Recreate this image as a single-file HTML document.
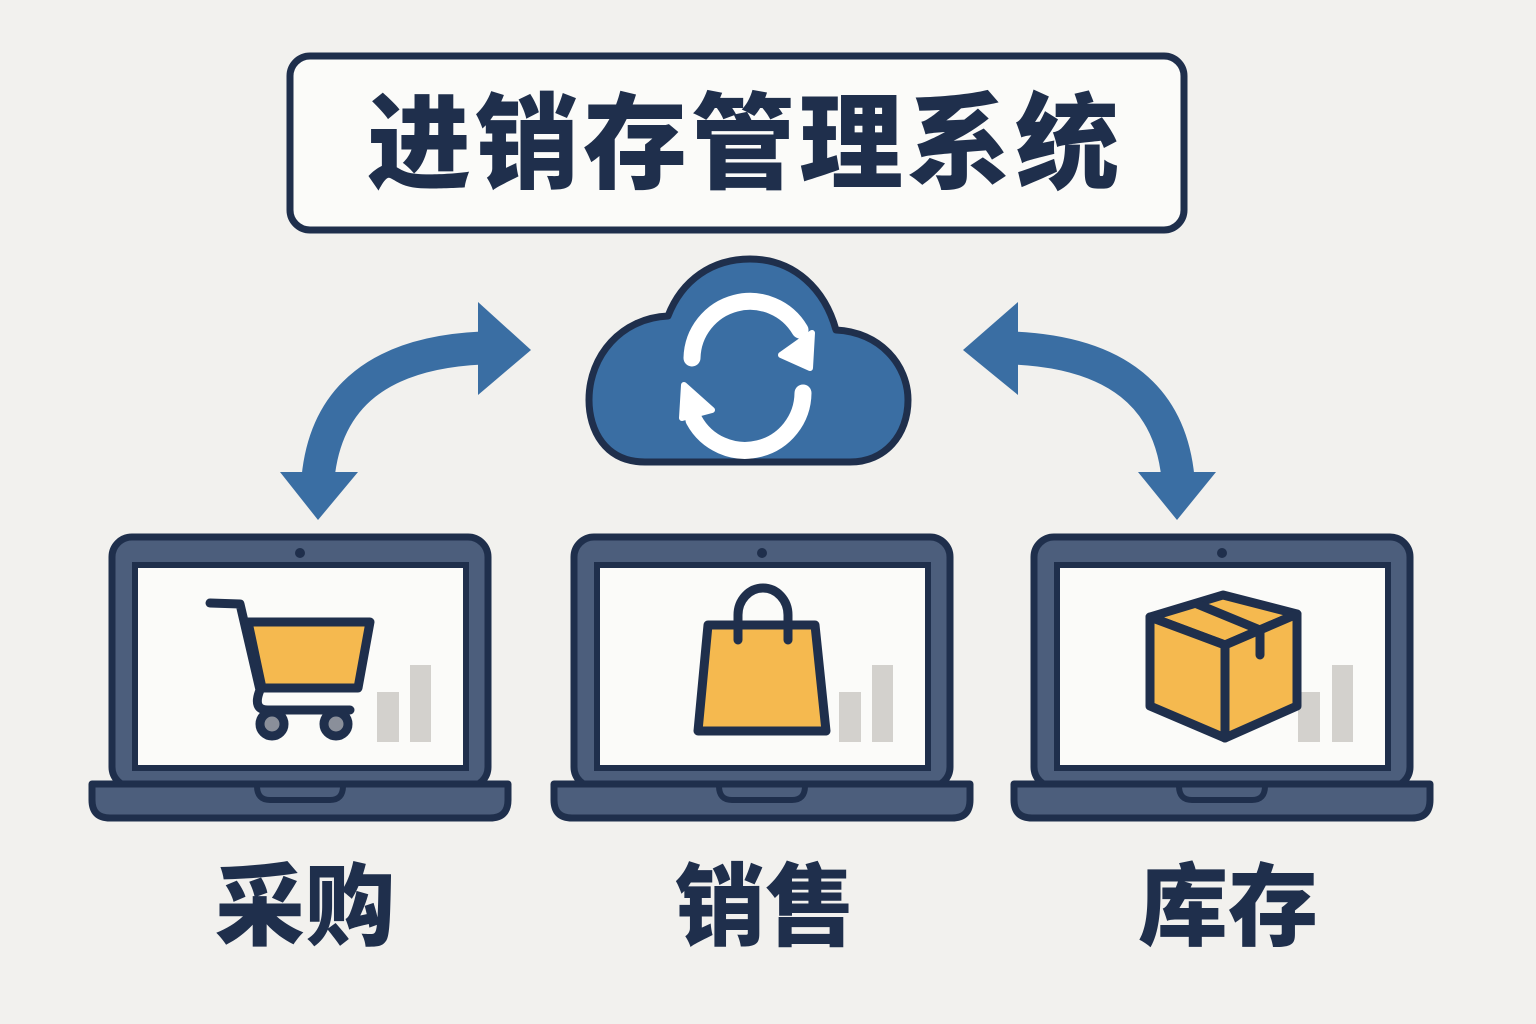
<!DOCTYPE html>
<html><head><meta charset="utf-8"><style>
html,body{margin:0;padding:0;background:#f2f1ee;}
svg{display:block;}
text{font-family:"Liberation Sans","Noto Sans CJK SC",sans-serif;font-weight:900;fill:#1f2f4c;}
</style></head><body>
<svg width="1536" height="1024" viewBox="0 0 1536 1024" xmlns="http://www.w3.org/2000/svg">
<rect width="1536" height="1024" fill="#f2f1ee"/>
<rect x="290" y="56" width="894" height="174" rx="20" fill="#fbfbf9" stroke="#1f2f4c" stroke-width="7"/>
<text x="745" y="180" font-size="104" text-anchor="middle" letter-spacing="4">进销存管理系统</text>

<!-- cloud -->
<path d="M645 462 C605 462 589 430 589 400 C589 355 622 318 668 316 C682 280 712 259 750 259 C795 259 825 290 836 330 C880 332 908 365 908 400 C908 435 885 462 850 462 Z" fill="#3a6ea3" stroke="#1f2f4c" stroke-width="7" stroke-linejoin="round"/>
<g fill="none" stroke="#fff" stroke-width="17" stroke-linecap="round">
<path d="M692 358 A58 58 0 0 1 800 330"/>
<path d="M803 393 A58 58 0 0 1 694 420"/>
</g>
<polygon points="812,333 810,368 781,355" fill="#fff" stroke="#fff" stroke-width="6" stroke-linejoin="round"/>
<polygon points="684,385 682,418 712,410" fill="#fff" stroke="#fff" stroke-width="6" stroke-linejoin="round"/>

<!-- arrows -->
<g fill="#3a6ea3">
<path d="M318 478 Q330 355 482 348" fill="none" stroke="#3a6ea3" stroke-width="33"/>
<polygon points="280,472 358,472 318,520"/>
<polygon points="478,302 478,395 531,350"/>
<path d="M1178 478 Q1166 355 1014 348" fill="none" stroke="#3a6ea3" stroke-width="33"/>
<polygon points="1138,472 1216,472 1177,520"/>
<polygon points="1018,302 1018,395 963,350"/>
</g>

<defs>
<g id="lap">
<rect x="0" y="537" width="376" height="250" rx="20" fill="#4c5e7c" stroke="#1f2f4c" stroke-width="7"/>
<rect x="23" y="565" width="331" height="203" fill="#fbfbf9" stroke="#1f2f4c" stroke-width="6"/>
<circle cx="188" cy="553" r="5" fill="#1f2f4c"/>
<path d="M-20 784 H396 V800 Q396 818 378 818 H-2 Q-20 818 -20 800 Z" fill="#4c5e7c" stroke="#1f2f4c" stroke-width="7" stroke-linejoin="round"/>
<path d="M145 786 Q145 800 158 800 H218 Q231 800 231 786" fill="none" stroke="#1f2f4c" stroke-width="6"/>
</g>
</defs>
<use href="#lap" transform="translate(112,0)"/>
<use href="#lap" transform="translate(574,0)"/>
<use href="#lap" transform="translate(1034,0)"/>

<!-- bars -->
<g fill="#d3d1cd">
<rect x="377" y="692" width="22" height="50"/><rect x="410" y="665" width="21" height="77"/>
<rect x="839" y="692" width="22" height="50"/><rect x="872" y="665" width="21" height="77"/>
<rect x="1298" y="692" width="22" height="50"/><rect x="1332" y="665" width="21" height="77"/>
</g>

<!-- cart -->
<g stroke="#1f2f4c" stroke-width="9" stroke-linejoin="round" stroke-linecap="round" fill="none">
<polygon points="248,622 370,622 358,688 262,688" fill="#f5b94f"/>
<path d="M210 603 L240 604 L260 690 Q252 710 268 710 L350 710"/>
<circle cx="272" cy="724" r="12" fill="#8a8f9a"/>
<circle cx="336" cy="724" r="12" fill="#8a8f9a"/>
</g>

<!-- bag -->
<g stroke="#1f2f4c" stroke-width="9" stroke-linejoin="round" stroke-linecap="round">
<polygon points="708,625 815,625 826,731 698,731" fill="#f5b94f"/>
<path d="M738 640 V615 A25 27 0 0 1 788 615 V640" fill="none"/>
</g>

<!-- box -->
<g stroke="#1f2f4c" stroke-width="9" stroke-linejoin="round" stroke-linecap="round" fill="#f5b94f">
<polygon points="1150,617 1223,595 1297,614 1225,645"/>
<polygon points="1150,617 1225,645 1225,738 1150,706"/>
<polygon points="1225,645 1297,614 1297,706 1225,738"/>
<path d="M1197 604 L1260 630 V655" fill="none"/>
</g>

<text x="305" y="938" font-size="90" text-anchor="middle">采购</text>
<text x="765" y="938" font-size="90" text-anchor="middle">销售</text>
<text x="1228" y="938" font-size="90" text-anchor="middle">库存</text>
</svg>
</body></html>
